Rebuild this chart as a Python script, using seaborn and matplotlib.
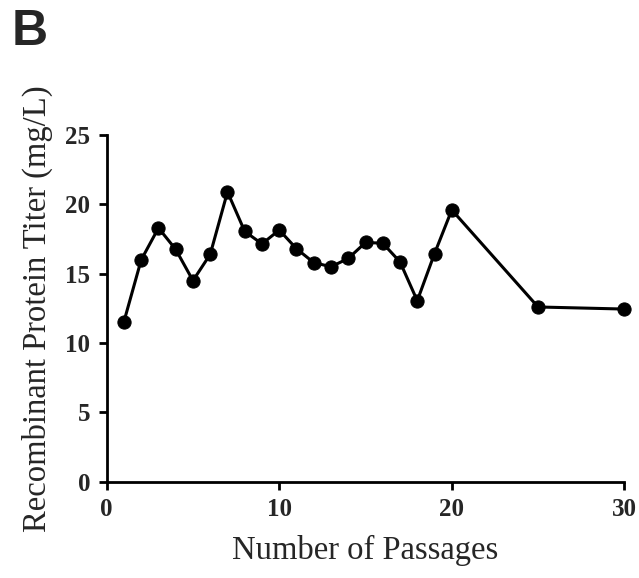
import matplotlib
matplotlib.use("Agg")
import matplotlib.pyplot as plt
import seaborn as sns
import pandas as pd

passages = [1, 2, 3, 4, 5, 6, 7, 8, 9, 10, 11, 12, 13, 14, 15, 16, 17, 18, 19, 20, 25, 30]
titer = [11.55, 16.0, 18.3, 16.75, 14.5, 16.4, 20.9, 18.05, 17.15, 18.15, 16.8, 15.8, 15.5, 16.1,
         17.25, 17.2, 15.85, 13.05, 16.45, 19.6, 12.6, 12.45]
x_ticks = [0, 10, 20, 30]
y_ticks = [0, 5, 10, 15, 20, 25]

df = pd.DataFrame({"Passages": passages, "Titer": titer})

sns.set_theme(style="ticks")
plt.rcParams["font.family"] = ["Liberation Serif", "DejaVu Serif"]

fig = plt.figure(figsize=(6.39, 5.78), dpi=100)
ax = fig.add_axes([0.167, 0.1666, 0.81, 0.5998])

sns.lineplot(data=df, x="Passages", y="Titer", ax=ax, color="black", linewidth=2.2,
             marker="o", markersize=9.5, markeredgecolor="black", markerfacecolor="black")

ax.set_xlim(0, 30)
ax.set_ylim(0, 25)
ax.set_xticks(x_ticks)
ax.set_yticks(y_ticks)
ax.set_xticklabels([str(v) for v in x_ticks], fontsize=18, fontweight="bold")
ax.set_yticklabels([str(v) for v in y_ticks], fontsize=18, fontweight="bold")
ax.tick_params(axis="both", direction="out", length=6, width=2, color="black", pad=6)
for s in ["left", "bottom"]:
    ax.spines[s].set_linewidth(2)
    ax.spines[s].set_color("black")
ax.spines["top"].set_visible(False)
ax.spines["right"].set_visible(False)
for line in ax.lines:
    line.set_clip_on(False)

ax.set_xlabel("Number of Passages", fontsize=23.5, labelpad=10)
ax.set_ylabel("Recombinant Protein Titer (mg/L)", fontsize=23.5, labelpad=9)

fig.text(0.018, 0.985, "B", fontsize=36, fontweight="bold", family="Liberation Sans",
         ha="left", va="top")

fig.savefig("out.png", dpi=100, facecolor="white")
